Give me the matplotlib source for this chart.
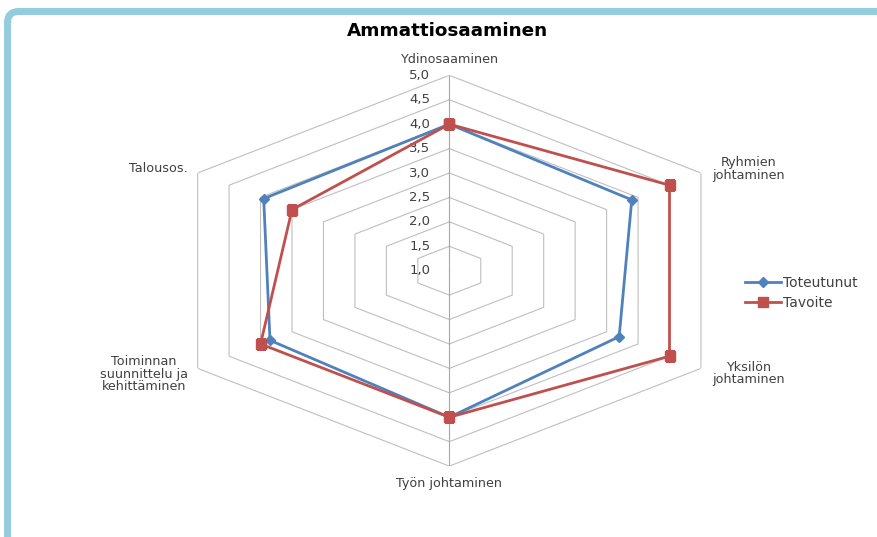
import numpy as np
import matplotlib
matplotlib.use("Agg")
import matplotlib.pyplot as plt
from matplotlib.patches import FancyBboxPatch
from matplotlib.transforms import IdentityTransform

# -----------------------------------------------------------------------------
# Data
# -----------------------------------------------------------------------------
categories = ["Ydinosaaminen", "Ryhmien\njohtaminen", "Yksilön\njohtaminen",
              "Työn johtaminen", "Toiminnan\nsuunnittelu ja\nkehittäminen",
              "Talousos."]
toteutunut = [4.0, 3.9, 3.7, 4.0, 3.85, 3.95]
tavoite = [4.0, 4.5, 4.5, 4.0, 4.0, 3.5]
ring_values = [1.0, 1.5, 2.0, 2.5, 3.0, 3.5, 4.0, 4.5, 5.0]
tick_labels = ["1,0", "1,5", "2,0", "2,5", "3,0", "3,5", "4,0", "4,5", "5,0"]

# label offsets (pixels) from the outer vertex of each spoke
label_offsets = [(0, 16), (48, 4), (48, -5), (0, -17), (-54, -6), (-39, 4)]

BLUE = "#4F81BD"
RED = "#C0504D"
GRID = "#BFBFBF"
TXT = "#404040"

W, H = 878, 537
fig = plt.figure(figsize=(W / 100, H / 100), dpi=100)
fig.patch.set_facecolor("white")

# light blue frame of the chart area (cropped at right/bottom)
frame = FancyBboxPatch((7.5, -30), 920, 537 - 11.5 + 30,
                       boxstyle="round,pad=0,rounding_size=11",
                       transform=IdentityTransform(), linewidth=5.0,
                       edgecolor="#93CDDD", facecolor="none", zorder=10)
fig.patches.append(frame)

# -----------------------------------------------------------------------------
# Radar (stretched polar axes)
# -----------------------------------------------------------------------------
cx, cy = 449.3, 270.7
rx, ry = 290.6, 195.4
ax = fig.add_axes([(cx - rx) / W, 1 - (cy + ry) / H, 2 * rx / W, 2 * ry / H],
                  projection="polar")
ax.set_aspect("auto")
ax.set_theta_offset(np.pi / 2)
ax.set_theta_direction(-1)
ax.set_ylim(ring_values[0], ring_values[-1])
ax.grid(False)
ax.set_xticks([])
ax.set_yticks([])
ax.spines["polar"].set_visible(False)
ax.patch.set_alpha(0)

n = len(categories)
theta = np.arange(n) * 2 * np.pi / n
theta_c = np.append(theta, theta[0])

for v in ring_values[1:]:
    ax.plot(theta_c, [v] * (n + 1), color=GRID, lw=0.8, zorder=1)
ax.plot([0, 0], [ring_values[0], ring_values[-1]], color="#A6A6A6", lw=0.8, zorder=1)
ax.plot([np.pi, np.pi], [ring_values[0], ring_values[-1]], color="#A6A6A6", lw=0.8, zorder=1)

for v, lab in zip(ring_values, tick_labels):
    ax.annotate(lab, xy=(0, v), xytext=(-19, 0), textcoords="offset pixels",
                ha="right", va="center", fontsize=9.5, color=TXT)

for t, lab, off in zip(theta, categories, label_offsets):
    ax.annotate(lab, xy=(t, ring_values[-1]), xytext=off, textcoords="offset pixels",
                ha="center", va="center", fontsize=9.2, color=TXT,
                linespacing=0.95, annotation_clip=False)

ax.plot(theta_c, toteutunut + toteutunut[:1], color=BLUE, lw=2.0, marker="D",
        markersize=5.5, label="Toteutunut", zorder=3)
ax.plot(theta_c, tavoite + tavoite[:1], color=RED, lw=2.0, marker="s",
        markersize=7.5, label="Tavoite", zorder=4)

fig.text(447 / W, 1 - 31 / H, "Ammattiosaaminen", ha="center", va="center",
         fontsize=13.2, fontweight="bold", color="black")

fig.legend(handles=ax.get_lines()[-2:], loc="upper left",
           bbox_to_anchor=(745 / W, 1 - 276 / H), bbox_transform=fig.transFigure,
           frameon=False, fontsize=10, handlelength=2.6, handletextpad=0.15,
           borderpad=0, borderaxespad=0, labelspacing=0.4, labelcolor=TXT)

fig.savefig("out.png", dpi=100)
